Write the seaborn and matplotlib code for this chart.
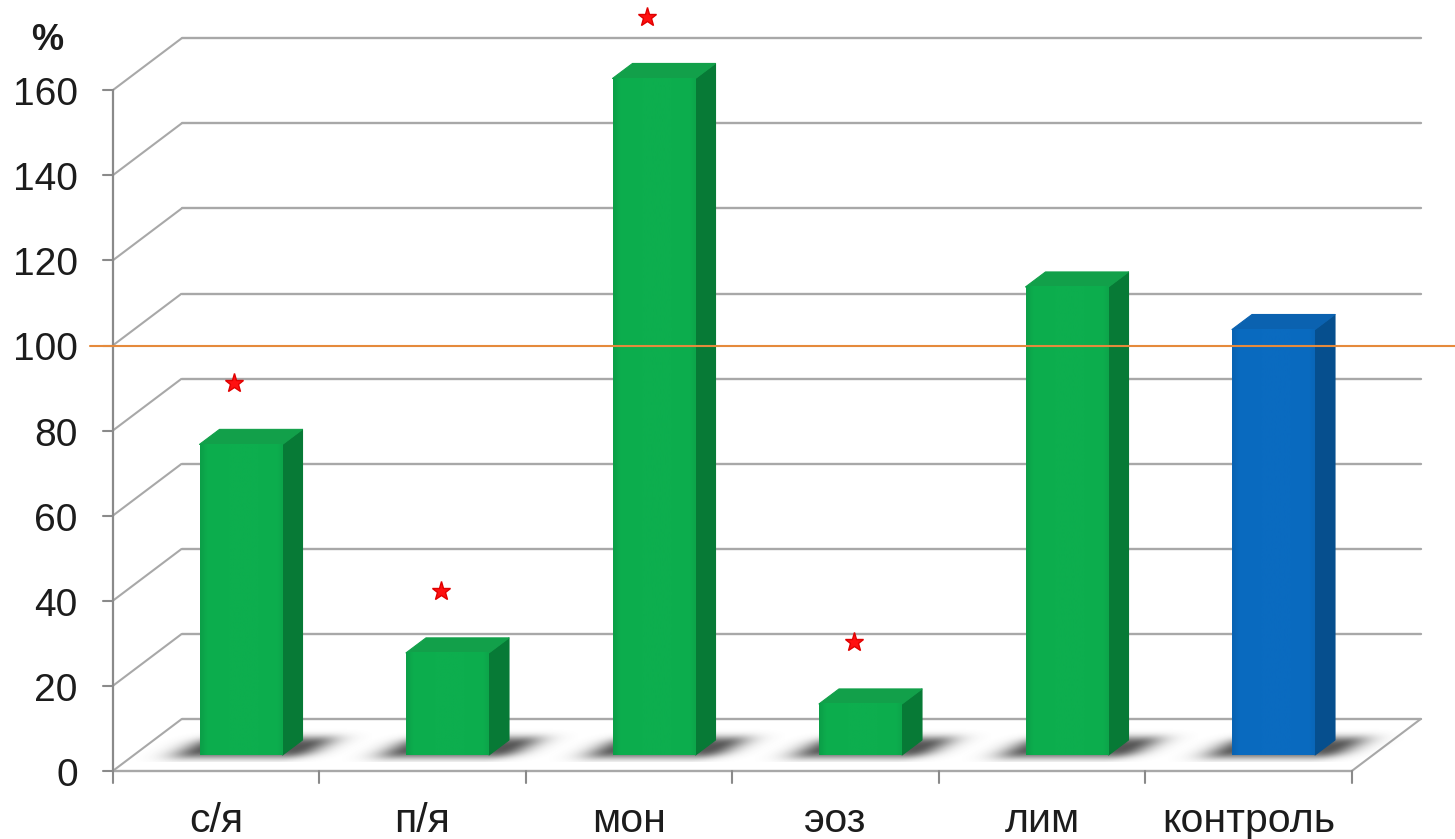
import numpy as np
import pandas as pd
import matplotlib
matplotlib.use("Agg")
import matplotlib.pyplot as plt
import seaborn as sns
from matplotlib.patches import Polygon
from matplotlib.colors import to_rgb

# ---- data -------------------------------------------------------------
categories = ["с/я", "п/я", "мон", "эоз", "лим", "контроль"]
values = [73, 24, 159, 12, 110, 100]
significant = [True, True, True, True, False, False]
y_ticks = [0, 20, 40, 60, 80, 100, 120, 140, 160]
reference_level = 100
unit_label = "%"

# ---- style ------------------------------------------------------------
sns.set_theme(style="white")
plt.rcParams["font.family"] = ["Liberation Sans", "DejaVu Sans"]

GREEN = dict(front="#0DAE4E", side="#077A36", top="#12A04A", dark="#0A9443")
BLUE = dict(front="#0A6BC0", side="#064F8E", top="#0B62B0", dark="#085DA8")
palettes = [BLUE if c == "контроль" else GREEN for c in categories]

GRID = "#A8A8A8"
TEXT = "#1C1C1C"

W, H = 1455, 839
fig = plt.figure(figsize=(W / 100, H / 100), dpi=100)
ax = fig.add_axes([0, 0, 1, 1])

# screen scale of the plot box
PX_X = 206.5   # pixels per category
PX_Y = 4.255   # pixels per value unit
X0, Y0 = 216, 771  # pixel of first category centre / value 0 on the front edge


def dx(px):
    return px / PX_X


def dv(px):
    return px / PX_Y


DEPTH_X = dx(69)   # shift of the back wall
DEPTH_Y = dv(52)
left, right = -0.5, len(categories) - 0.5

# ---- bars (front faces) -----------------------------------------------
df = pd.DataFrame({"category": categories, "value": values})
sns.barplot(data=df, x="category", y="value", hue="category",
            palette=[p["front"] for p in palettes], legend=False,
            width=dx(83), saturation=1, errorbar=None, ax=ax,
            linewidth=0, zorder=5)
bars = sorted(ax.patches, key=lambda p: p.get_x())

ax.set_xlim(-X0 / PX_X, (W - X0) / PX_X)
ax.set_ylim((Y0 - H) / PX_Y, Y0 / PX_Y)
ax.axis("off")

# ---- walls, floor and axis --------------------------------------------
for v in y_ticks:
    ax.plot([left, left + DEPTH_X], [v, v + DEPTH_Y], color=GRID, lw=1.5,
            zorder=1, solid_capstyle="butt")
    ax.plot([left + DEPTH_X, right + DEPTH_X], [v + DEPTH_Y] * 2,
            color=GRID, lw=1.7, zorder=1)
    ax.plot([left - dx(10), left], [v, v], color="#8A8A8A", lw=1.5, zorder=2)
    ax.text(left - dx(35), v - dv(15), str(v), ha="right", va="baseline",
            fontsize=28, color=TEXT)

ax.plot([left, right], [0, 0], color=GRID, lw=1.7, zorder=1)
ax.plot([right, right + DEPTH_X], [0, DEPTH_Y], color=GRID, lw=1.5, zorder=1)
ax.plot([left, left], [0, y_ticks[-1]], color="#8A8A8A", lw=1.6, zorder=2)
for b in np.arange(len(categories) + 1) - 0.5:
    ax.plot([b, b], [0, -dv(12)], color="#8A8A8A", lw=1.5, zorder=2)

for i, c in enumerate(categories):
    ax.text(i, -dv(832 - Y0), c, ha="center", va="baseline", fontsize=29.5,
            color=TEXT)

ax.text(dx(47 - X0), dv(Y0 - 50), unit_label, ha="center", va="baseline",
        fontsize=26, fontweight="bold", color=TEXT)

# ---- 3D extrusion, shading and floor shadows ---------------------------
SHIFT_X = dx(25)     # bars stand a little behind the front edge
BASE = dv(16)
SIDE_X = dx(20)      # visible depth of each bar
SIDE_Y = dv(15)
STAR_GAP = 14.5      # star height above the bar's front top edge


def mix(c, other, t):
    a, b = np.array(to_rgb(c)), np.array(to_rgb(other))
    return a * (1 - t) + b * t


for bar, pal, val, sig in zip(bars, palettes, values, significant):
    bar.set_x(bar.get_x() + SHIFT_X)
    bar.set_y(BASE)
    xl = bar.get_x()
    xr = xl + bar.get_width()
    top = BASE + bar.get_height()

    # soft shadow on the floor around the bar footprint
    pxl, pxr = X0 + xl * PX_X, X0 + xr * PX_X
    pyf = Y0 - BASE * PX_Y
    gx = np.arange(pxl - 80, pxr + 90)
    gy = np.arange(pyf - 30, pyf + 8)
    GX, GY = np.meshgrid(gx, gy)
    t = (pyf - GY) / 15.0
    s = t * 26
    d = np.maximum(np.maximum(pxl - 4 + s - GX, GX - (pxr + 4 + s)), 0)
    vert = np.exp(-np.abs((t - 0.5) / 0.75) ** 3)
    alpha = 0.85 * np.exp(-(d / 26.0) ** 2) * vert
    img = np.zeros(GX.shape + (4,))
    img[..., :3] = 0.22
    img[..., 3] = alpha
    ax.imshow(img, extent=[dx(gx[0] - X0), dx(gx[-1] - X0),
                           dv(Y0 - gy[-1]), dv(Y0 - gy[0])],
              origin="upper", interpolation="bilinear", zorder=3,
              aspect="auto")

    # gently shaded front face
    n = 120
    edge = np.linspace(0, 1, n)
    prof = 0.22 * np.exp(-(edge / 0.06) ** 2) + 0.12 * np.exp(-((1 - edge) / 0.05) ** 2)
    cols = np.array([mix(pal["front"], pal["dark"], p * 2.5) for p in prof])
    ax.imshow(cols[np.newaxis, :, :], extent=[xl, xr, BASE, top],
              aspect="auto", interpolation="bilinear", zorder=5.5,
              clip_path=bar, clip_on=True)

    side = Polygon([(xr, BASE), (xr + SIDE_X, BASE + SIDE_Y),
                    (xr + SIDE_X, top + SIDE_Y), (xr, top)],
                   closed=True, facecolor=pal["side"], edgecolor=pal["side"],
                   lw=0.8, joinstyle="round", zorder=5)
    roof = Polygon([(xl, top), (xl + SIDE_X, top + SIDE_Y),
                    (xr + SIDE_X, top + SIDE_Y), (xr, top)],
                   closed=True, facecolor=pal["top"], edgecolor=pal["top"],
                   lw=0.8, joinstyle="round", zorder=5)
    ax.add_patch(side)
    ax.add_patch(roof)

    if sig:
        ax.plot((xl + xr) / 2 - dx(7), top + STAR_GAP,
                marker="*", ms=14, color="#FF1010", mec="#E00000",
                ls="none", zorder=7)

# ---- reference level --------------------------------------------------
ax.axhline(reference_level, xmin=90 / W, xmax=1.0, color="#E58A3C",
           lw=1.5, zorder=8)

fig.savefig("out.png", dpi=100, facecolor="white")
